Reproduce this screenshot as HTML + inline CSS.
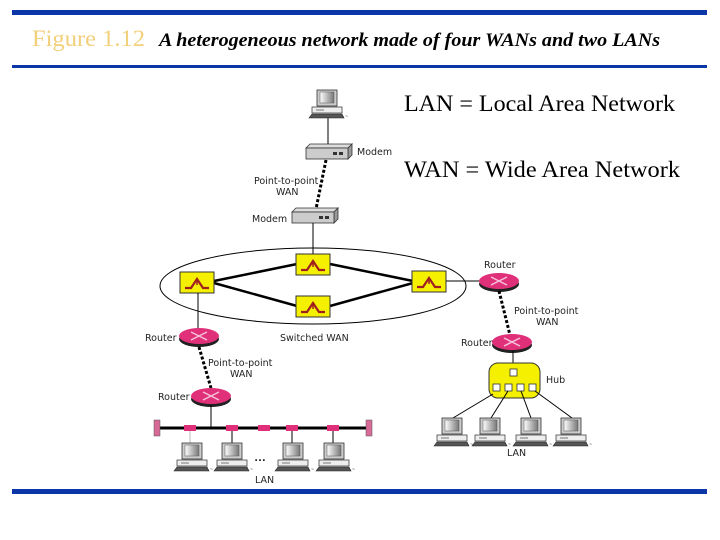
<!DOCTYPE html>
<html><head><meta charset="utf-8"><style>
html,body{margin:0;padding:0;background:#fff;}
svg{display:block;}
.s{font-family:"DejaVu Sans","Liberation Sans",sans-serif;font-size:9.5px;fill:#222;}
</style></head><body>
<svg width="720" height="540" viewBox="0 0 720 540" xmlns="http://www.w3.org/2000/svg">
<defs>
<linearGradient id="mon" x1="0" x2="1"><stop offset="0" stop-color="#fff"/><stop offset="1" stop-color="#777"/></linearGradient>
<g id="pc">
<rect x="-10" y="0" width="20" height="16" fill="#ccc" stroke="#333" stroke-width="0.8"/>
<rect x="-7" y="2" width="14" height="11" fill="url(#mon)" stroke="#555" stroke-width="0.5"/>
<rect x="-15" y="17" width="30" height="6" fill="#eee" stroke="#444" stroke-width="0.8"/>
<line x1="-11" y1="20" x2="-3" y2="20" stroke="#444" stroke-width="0.7"/>
<polygon points="-18,28 -15,24 15,24 17,28" fill="#555" stroke="#222" stroke-width="0.6"/>
<text x="18" y="28" font-size="5" font-family="Liberation Sans" fill="#333">~</text>
</g>
<g id="sw">
<rect x="0" y="0" width="34" height="21" fill="#f4f000" stroke="#333" stroke-width="1"/>
<polyline points="5,16 11,16 17,7 23,16 29,16" fill="none" stroke="#a02020" stroke-width="2.2"/>
<polyline points="17,7 17,13" stroke="#a02020" stroke-width="1.5"/>
</g>
<g id="rt">
<ellipse cx="0" cy="3" rx="20" ry="8" fill="#222"/>
<ellipse cx="0" cy="0" rx="20" ry="8" fill="#e0307a"/>
<path d="M-8,-4 L8,4 M-8,4 L8,-4" stroke="#f6c0d8" stroke-width="1.5"/>
</g>
<g id="mdm">
<polygon points="0,4 4,0 46,0 42,4" fill="#ddd" stroke="#333" stroke-width="0.8"/>
<polygon points="42,4 46,0 46,11 42,15" fill="#999" stroke="#333" stroke-width="0.8"/>
<rect x="0" y="4" width="42" height="11" fill="#ccc" stroke="#333" stroke-width="0.8"/>
<rect x="27" y="8" width="4" height="3" fill="#333"/><rect x="33" y="8" width="4" height="3" fill="#333"/>
</g>
</defs>

<rect x="12" y="10" width="695" height="5" fill="#0a36a8"/>
<rect x="12" y="65" width="695" height="3" fill="#0a36a8"/>
<rect x="12" y="489" width="695" height="5" fill="#0a36a8"/>
<text x="32" y="46" font-family="Liberation Serif" font-size="23" fill="#f2cf7a" textLength="113" lengthAdjust="spacingAndGlyphs">Figure 1.12</text>
<text x="159" y="46" font-family="Liberation Serif" font-size="19" font-style="italic" font-weight="bold" fill="#000" textLength="501" lengthAdjust="spacingAndGlyphs">A heterogeneous network made of four WANs and two LANs</text>

<text x="404" y="111" font-family="Liberation Serif" font-size="23" fill="#000" textLength="271" lengthAdjust="spacingAndGlyphs">LAN = Local Area Network</text>
<text x="404" y="177" font-family="Liberation Serif" font-size="23" fill="#000" textLength="276" lengthAdjust="spacingAndGlyphs">WAN = Wide Area Network</text>

<!-- top -->
<line x1="328" y1="117" x2="328" y2="146" stroke="#000" stroke-width="1"/>
<use href="#pc" x="327" y="90"/>
<use href="#mdm" x="306" y="144"/>
<text class="s" x="357" y="155">Modem</text>
<line x1="326" y1="160" x2="316" y2="209" stroke="#000" stroke-width="3" stroke-dasharray="3,2"/>
<text class="s" x="254" y="184">Point-to-point</text>
<text class="s" x="276" y="195">WAN</text>
<use href="#mdm" x="292" y="208"/>
<text class="s" x="252" y="222">Modem</text>
<line x1="313" y1="223" x2="313" y2="254" stroke="#000"/>

<!-- ellipse -->
<ellipse cx="313" cy="286" rx="153" ry="38" fill="none" stroke="#000" stroke-width="1"/>
<g stroke="#000" stroke-width="2.5" fill="none">
<line x1="214" y1="281" x2="297" y2="264"/>
<line x1="214" y1="283" x2="297" y2="306"/>
<line x1="330" y1="264" x2="413" y2="281"/>
<line x1="330" y1="306" x2="413" y2="283"/>
</g>
<line x1="446" y1="281" x2="480" y2="281" stroke="#000"/>
<use href="#sw" x="180" y="272"/>
<use href="#sw" x="296" y="254"/>
<use href="#sw" x="296" y="296"/>
<use href="#sw" x="412" y="271"/>
<line x1="198" y1="293" x2="198" y2="330" stroke="#000"/>
<text class="s" x="280" y="341">Switched WAN</text>

<!-- left routers -->
<use href="#rt" x="199" y="336"/>
<text class="s" x="145" y="341">Router</text>
<line x1="199" y1="347" x2="211" y2="388" stroke="#000" stroke-width="3" stroke-dasharray="3,2"/>
<text class="s" x="208" y="366">Point-to-point</text>
<text class="s" x="230" y="377">WAN</text>
<use href="#rt" x="211" y="396"/>
<text class="s" x="158" y="400">Router</text>
<line x1="211" y1="405" x2="211" y2="428" stroke="#000"/>

<!-- bus -->
<line x1="158" y1="428" x2="369" y2="428" stroke="#000" stroke-width="3"/>
<rect x="154" y="420" width="6" height="16" fill="#d86a98" stroke="#555" stroke-width="0.5"/>
<rect x="366" y="420" width="6" height="16" fill="#d86a98" stroke="#555" stroke-width="0.5"/>
<g fill="#e0307a">
<rect x="184" y="425" width="12" height="6"/><rect x="226" y="425" width="12" height="6"/>
<rect x="258" y="425" width="12" height="6"/><rect x="286" y="425" width="12" height="6"/>
<rect x="327" y="425" width="12" height="6"/>
</g>
<g stroke="#000"><line x1="190" y1="431" x2="190" y2="443" stroke="#bbb"/><line x1="232" y1="431" x2="232" y2="443"/><line x1="292" y1="431" x2="292" y2="443"/><line x1="333" y1="431" x2="333" y2="443"/></g>
<use href="#pc" x="192" y="443"/><use href="#pc" x="232" y="443"/>
<use href="#pc" x="293" y="443"/><use href="#pc" x="334" y="443"/>
<text x="254" y="461" font-family="Liberation Sans" font-size="12" font-weight="bold" fill="#222">…</text>
<text class="s" x="255" y="483">LAN</text>

<!-- right -->
<use href="#rt" x="499" y="281"/>
<text class="s" x="484" y="268">Router</text>
<line x1="499" y1="291" x2="510" y2="335" stroke="#000" stroke-width="3" stroke-dasharray="3,2"/>
<text class="s" x="514" y="314">Point-to-point</text>
<text class="s" x="536" y="325">WAN</text>
<use href="#rt" x="512" y="342"/>
<text class="s" x="461" y="346">Router</text>
<line x1="513" y1="351" x2="513" y2="368" stroke="#000"/>
<rect x="489" y="363" width="51" height="35" rx="9" fill="#f4f000" stroke="#333"/>
<g fill="#fff" stroke="#333" stroke-width="0.8">
<rect x="510" y="369" width="7" height="7"/>
<rect x="493" y="384" width="7" height="7"/><rect x="505" y="384" width="7" height="7"/>
<rect x="517" y="384" width="7" height="7"/><rect x="529" y="384" width="7" height="7"/>
</g>
<text class="s" x="546" y="383">Hub</text>
<g stroke="#000">
<line x1="493" y1="394" x2="453" y2="418"/><line x1="508" y1="391" x2="491" y2="418"/>
<line x1="521" y1="391" x2="531" y2="418"/><line x1="535" y1="391" x2="572" y2="418"/>
</g>
<use href="#pc" x="452" y="418"/><use href="#pc" x="490" y="418"/>
<use href="#pc" x="531" y="418"/><use href="#pc" x="571" y="418"/>
<text class="s" x="507" y="456">LAN</text>
</svg>
</body></html>
